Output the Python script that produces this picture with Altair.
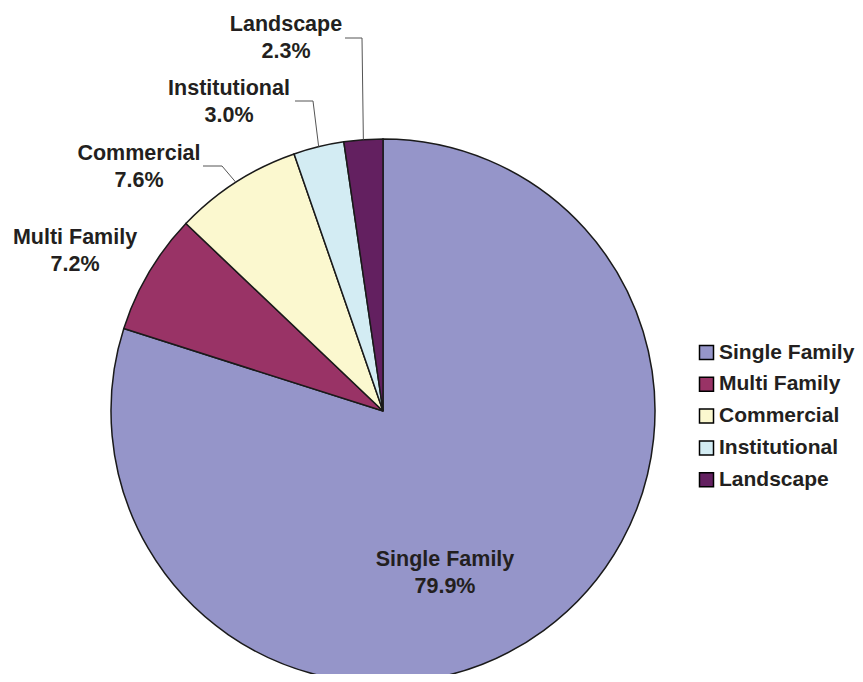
import altair as alt
import pandas as pd
import numpy as np

# ---- data ----
categories = ["Single Family", "Multi Family", "Commercial", "Institutional", "Landscape"]
shares = [79.9, 7.2, 7.6, 3.0, 2.3]
pct_labels = ["79.9%", "7.2%", "7.6%", "3.0%", "2.3%"]
colors = ["#9595C9", "#993366", "#FBF8CF", "#D3ECF3", "#632060"]

# ---- layout (pixels, relative to pie centre) ----
W, H = 847, 666
CX, CY = 375, 403
R = 272
label_dx = [62, -308, -244, -154, -97]
label_dy = [149, -173.5, -257.5, -322, -386.5]   # first-line centre
# leader lines: label-side start and elbow, for outside labels
leader_cats = ["Commercial", "Institutional", "Landscape"]
leader_start = [(-180, -245), (-88, -310), (-38, -373)]
leader_elbow = [(-161, -245), (-70, -310), (-21, -373)]

FONT = "Liberation Sans"
TXT = "#231F20"

df = pd.DataFrame({"category": categories, "share": shares, "idx": range(len(categories))})

# mid angles from the data
cum = np.cumsum(shares)
total = cum[-1]
mid = (cum - np.array(shares) / 2) / total * 2 * np.pi
mid_map = dict(zip(categories, mid))

lab = pd.DataFrame({
    "category": categories,
    "text": [f"{c}\n{p}" for c, p in zip(categories, pct_labels)],
    "lx": label_dx,
    "ly": label_dy,
})

rows = []
for c, s, e in zip(leader_cats, leader_start, leader_elbow):
    a = mid_map[c]
    rows.append({"category": c, "pt": 0, "lx": s[0], "ly": s[1]})
    rows.append({"category": c, "pt": 1, "lx": e[0], "ly": e[1]})
    rows.append({"category": c, "pt": 2, "lx": R * np.sin(a), "ly": -R * np.cos(a)})
lead = pd.DataFrame(rows)

xs = alt.Scale(domain=[-CX, W - CX], range=[0, W])
ys = alt.Scale(domain=[-CY, H - CY], range=[0, H])

color = alt.Color(
    "category:N",
    scale=alt.Scale(domain=categories, range=colors),
    sort=categories,
    legend=alt.Legend(
        title=None, orient="none", legendX=688, legendY=334,
        symbolType="square", symbolSize=196, symbolStrokeColor="black",
        symbolStrokeWidth=1.5, labelFontSize=21, labelFont=FONT,
        labelFontWeight="bold", labelColor=TXT, rowPadding=9.8,
        labelOffset=2, padding=0, labelLimit=300,
    ),
)

pie = alt.Chart(df).mark_arc(outerRadius=R, stroke="#1a1a1a", strokeWidth=1.5).encode(
    theta=alt.Theta("share:Q", stack=True),
    color=color,
    order=alt.Order("idx:Q"),
    x=alt.value(CX),
    y=alt.value(CY),
)

leaders = alt.Chart(lead).mark_line(color="#555555", strokeWidth=1).encode(
    x=alt.X("lx:Q", scale=xs, axis=None),
    y=alt.Y("ly:Q", scale=ys, axis=None),
    detail="category:N",
    order=alt.Order("pt:Q"),
)

labels = alt.Chart(lab).mark_text(
    font=FONT, fontSize=21.5, fontWeight="bold", color=TXT,
    lineBreak="\n", lineHeight=27, align="center", baseline="middle",
).encode(
    x=alt.X("lx:Q", scale=xs, axis=None),
    y=alt.Y("ly:Q", scale=ys, axis=None),
    text="text:N",
)

chart = alt.layer(pie, leaders, labels).properties(
    width=W, height=H, autosize="none", padding=0, background="white"
).configure_view(stroke=None)

chart.save("out.html", embed_options={"renderer": "svg", "actions": False})
